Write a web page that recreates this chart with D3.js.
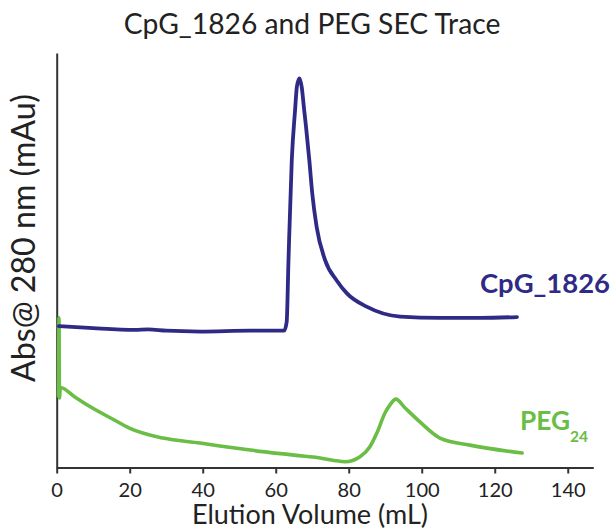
<!DOCTYPE html>
<html>
<head>
<meta charset="utf-8">
<script src="https://cdn.jsdelivr.net/npm/d3@7"></script>
<style>
  html, body { margin: 0; padding: 0; background: #ffffff; }
  svg { display: block; }
  text { font-family: Lato, "Open Sans", sans-serif; }
</style>
</head>
<body>
<svg id="chart" width="616" height="531"></svg>
<script>
// ---- data ----
const xTicks = [0, 20, 40, 60, 80, 100, 120, 140];

const cpgVolume = [0.6, 10, 21.4, 25, 30, 39.3, 53, 62.3, 63.0, 63.5, 64.4, 65.3, 65.8, 66.5, 67.1, 67.8, 68.3, 69.2, 70.0, 71.2, 73.5, 76.8, 79.5, 84.9, 94.1, 105, 116, 126.1];
const cpgAbs    = [34.1, 33.6, 33.2, 33.3, 33.0, 32.8, 33.0, 33.0, 35.1, 50.1, 74.2, 86.2, 91.9, 93.9, 91.9, 86.2, 82.2, 74.2, 66.2, 58.1, 50.1, 45.0, 42.0, 38.8, 36.4, 36.1, 36.1, 36.3];

const pegVolume = [0.5, 0.63, 0.75, 1.0, 5.0, 9.1, 15.9, 19.9, 29.1, 39.3, 44.7, 53.0, 63.9, 68.0, 72.1, 76.0, 79.0, 83.1, 85.8, 87.7, 89.9, 91.3, 92.9, 95.4, 99.5, 105.0, 113.2, 127.5];
const pegAbs    = [17.2, 36.1, 16.8, 19.3, 17.0, 14.7, 11.4, 9.5, 7.1, 5.9, 5.2, 4.2, 3.1, 2.7, 2.3, 1.7, 1.4, 2.6, 5.0, 8.3, 13.1, 15.1, 16.5, 14.4, 11.0, 7.1, 5.4, 3.5];

const titleText = "CpG_1826 and PEG SEC Trace";
const xLabelText = "Elution Volume (mL)";
const yLabelText = "Abs@ 280 nm (mAu)";

// ---- layout ----
const svg = d3.select("#chart");
const blue = "#2e2a85", green = "#6abd45", axisColor = "#333333";

const x = d3.scaleLinear().domain([0, 147]).range([56.7, 593.3]);
const y = d3.scaleLinear().domain([0, 100]).range([467.5, 53]);

function fitSize(str, weight, target) {
  const t = svg.append("text").attr("font-size", 20).attr("font-weight", weight).text(str);
  const w = t.node().getComputedTextLength();
  t.remove();
  return 20 * target / w;
}

// x axis
const tickFs = fitSize("100", "normal", 35);
const xAxisG = svg.append("g")
  .attr("transform", `translate(0,${y(0)})`)
  .call(d3.axisBottom(x).tickValues(xTicks).tickSize(6).tickSizeOuter(0).tickPadding(9));
xAxisG.attr("font-size", tickFs).attr("font-family", "Lato, sans-serif");
xAxisG.select(".domain").attr("stroke", axisColor).attr("stroke-width", 2);
xAxisG.selectAll(".tick line").attr("stroke", axisColor).attr("stroke-width", 2);
xAxisG.selectAll(".tick text").attr("fill", "#222");

// y axis (no ticks)
const yAxisG = svg.append("g")
  .attr("transform", `translate(${x(0)},0)`)
  .call(d3.axisLeft(y).tickValues([]).tickSizeOuter(0));
yAxisG.select(".domain").attr("stroke", axisColor).attr("stroke-width", 2);

// lines
const line = d3.line().curve(d3.curveMonotoneX);
const cpgPts = cpgVolume.map((v, i) => [x(v), y(cpgAbs[i])]);
const pegPts = pegVolume.map((v, i) => [x(v), y(pegAbs[i])]);

svg.append("path").attr("d", line(pegPts))
  .attr("fill", "none").attr("stroke", green).attr("stroke-width", 3.6)
  .attr("stroke-linejoin", "round").attr("stroke-linecap", "round");
svg.append("path").attr("d", line(cpgPts))
  .attr("fill", "none").attr("stroke", blue).attr("stroke-width", 3.8)
  .attr("stroke-linejoin", "round").attr("stroke-linecap", "round");

// title
svg.append("text").attr("x", 312).attr("y", 34)
  .attr("text-anchor", "middle").attr("font-size", fitSize(titleText, "normal", 377))
  .attr("fill", "#222").text(titleText);

// x label
svg.append("text").attr("x", 310).attr("y", 524)
  .attr("text-anchor", "middle").attr("font-size", fitSize(xLabelText, "normal", 236))
  .attr("fill", "#222").text(xLabelText);

// y label
svg.append("text").attr("transform", "translate(35,238) rotate(-90)")
  .attr("text-anchor", "middle").attr("font-size", fitSize(yLabelText, "normal", 288))
  .attr("fill", "#222").text(yLabelText);

// series labels
svg.append("text").attr("x", 480).attr("y", 293)
  .attr("font-size", fitSize("CpG_1826", "bold", 130)).attr("font-weight", "bold")
  .attr("fill", blue).text("CpG_1826");

const pegFs = fitSize("PEG", "bold", 50);
const pl = svg.append("text").attr("x", 520).attr("y", 430)
  .attr("font-weight", "bold").attr("fill", green);
pl.append("tspan").attr("font-size", pegFs).text("PEG");
pl.append("tspan").attr("font-size", fitSize("24", "bold", 18)).attr("dy", 12).text("24");
</script>
</body>
</html>
